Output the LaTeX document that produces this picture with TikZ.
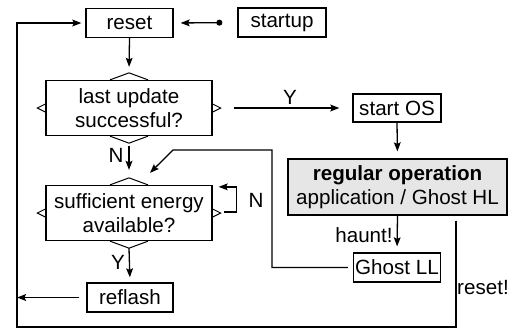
\documentclass[tikz,border=0pt]{standalone}
\usepackage{fontspec}
\setmainfont{Liberation Sans}
\usetikzlibrary{arrows.meta,calc}
\definecolor{opgray}{RGB}{230,230,230}
\tikzset{
  fbase/.style ={font=\fontsize{10.3}{11.8}\selectfont},
  fbox/.style  ={fbase, rectangle, draw=black, line width=0.65pt, inner sep=0pt,
                 minimum width=43.5pt, minimum height=14.5pt},
  fdec/.style  ={fbase, rectangle, draw=black, line width=0.65pt, inner sep=0pt,
                 minimum width=83pt, minimum height=27.5pt, align=center},
  fop/.style   ={fbox, fill=opgray, minimum width=109.5pt, minimum height=28pt,
                 align=center},
  flabel/.style={fbase, inner sep=0pt},
  fline/.style ={line width=0.65pt, black},
  farr/.style  ={fline, -{Stealth[length=4.5pt,width=3.4pt,inset=0.8pt]}},
  fdot/.style  ={fline, {Circle[length=3pt]}-{Stealth[length=4.5pt,width=3.4pt,inset=0.8pt]}},
  fnotch/.style={line width=0.5pt, black, line join=miter},
}

\begin{document}
\begin{tikzpicture}[x=0.5pt,y=-0.5pt]
  \useasboundingbox (0,0) rectangle (513,329);

  % ---- boxes --------------------------------------------------------------
  \node[fbox] (reset)   at (129.5,23)  {reset};
  \node[fbox, minimum width=44pt] (startup) at (282,22.5) {startup};
  \node[fdec] (upd)     at (129,108)   {last update\\successful?};
  \node[fbox, minimum width=44pt, minimum height=14pt] (startos) at (397,108) {start OS};
  \node[fop]  (regop)   at (397.5,187) {\textbf{regular operation}\\application / Ghost HL};
  \node[fdec] (nrg)     at (129,213)   {sufficient energy\\available?};
  \node[fbox] (ghostll) at (397,267.5) {Ghost LL};
  \node[fbox, minimum width=43pt] (reflash) at (130,297.5) {reflash};

  % ---- notches on the decisions -------------------------------------------
  \foreach \d in {upd,nrg} {
    \draw[fnotch] ([xshift=-9.5pt]\d.north) -- ([yshift=3.5pt]\d.north) -- ([xshift=9.5pt]\d.north);
    \draw[fnotch] ([xshift=-9.5pt]\d.south) -- ([yshift=-3.5pt]\d.south) -- ([xshift=9.5pt]\d.south);
    \draw[fnotch] ([yshift=2pt]\d.west) -- ([xshift=-4pt]\d.west) -- ([yshift=-2pt]\d.west);
    \draw[fnotch] ([yshift=2pt]\d.east) -- ([xshift=4pt]\d.east) -- ([yshift=-2pt]\d.east);
  }

  % ---- labels -------------------------------------------------------------
  \node[flabel] (lY1)    at (290,97)  {Y};
  \node[flabel] (lN1)    at (116,155) {N};
  \node[flabel] (lN2)    at (256,200) {N};
  \node[flabel] (lY2)    at (118,262) {Y};
  \node[flabel] (lhaunt) at (364,235) {haunt!};
  \node[flabel] (lreset) at (483,287) {reset!};

  % ---- loop corners -------------------------------------------------------
  \coordinate (cl) at (17,327);
  \coordinate (cr) at (456,327);
  \coordinate (gk) at (272,150);
  \coordinate (gd) at (173,150);

  % ---- connectors ---------------------------------------------------------
  \draw[fdot, shorten <=7.5pt, shorten >=3.5pt] (startup.west) -- (reset.east);
  \draw[farr, shorten >=3pt] (reset.south) -- ([yshift=3.5pt]upd.north);
  \draw[farr, shorten <=6.5pt, shorten >=6.5pt] ([xshift=4pt]upd.east) -- (startos.west);
  \draw[farr, shorten >=3.5pt] (startos.south) -- (regop.north);
  \draw[farr, shorten <=1.5pt, shorten >=4pt] ([yshift=-3.5pt]upd.south) -- ([yshift=3.5pt]nrg.north);
  \draw[farr, shorten >=3pt] (regop.south) -- (ghostll.north);
  \draw[farr, shorten >=2.5pt] ([yshift=-3.5pt]nrg.south) -- (reflash.north);
  \draw[farr] ([xshift=5.5pt,yshift=0.5pt]nrg.east) -- ++(13,0) |- ([xshift=3pt,yshift=-1pt]nrg.north east);
  \draw[farr, shorten <=2.5pt] (ghostll.west) -| (gk) -- (gd) -- ([xshift=10.5pt,yshift=6pt]nrg.north);
  \draw[farr, shorten <=3.5pt] (reflash.west) -- (cl |- reflash.west);
  \draw[farr] (regop.south -| cr) ++(0,5) -- (cr) -- (cl) |- ([xshift=-2pt]reset.west);
\end{tikzpicture}
\end{document}
